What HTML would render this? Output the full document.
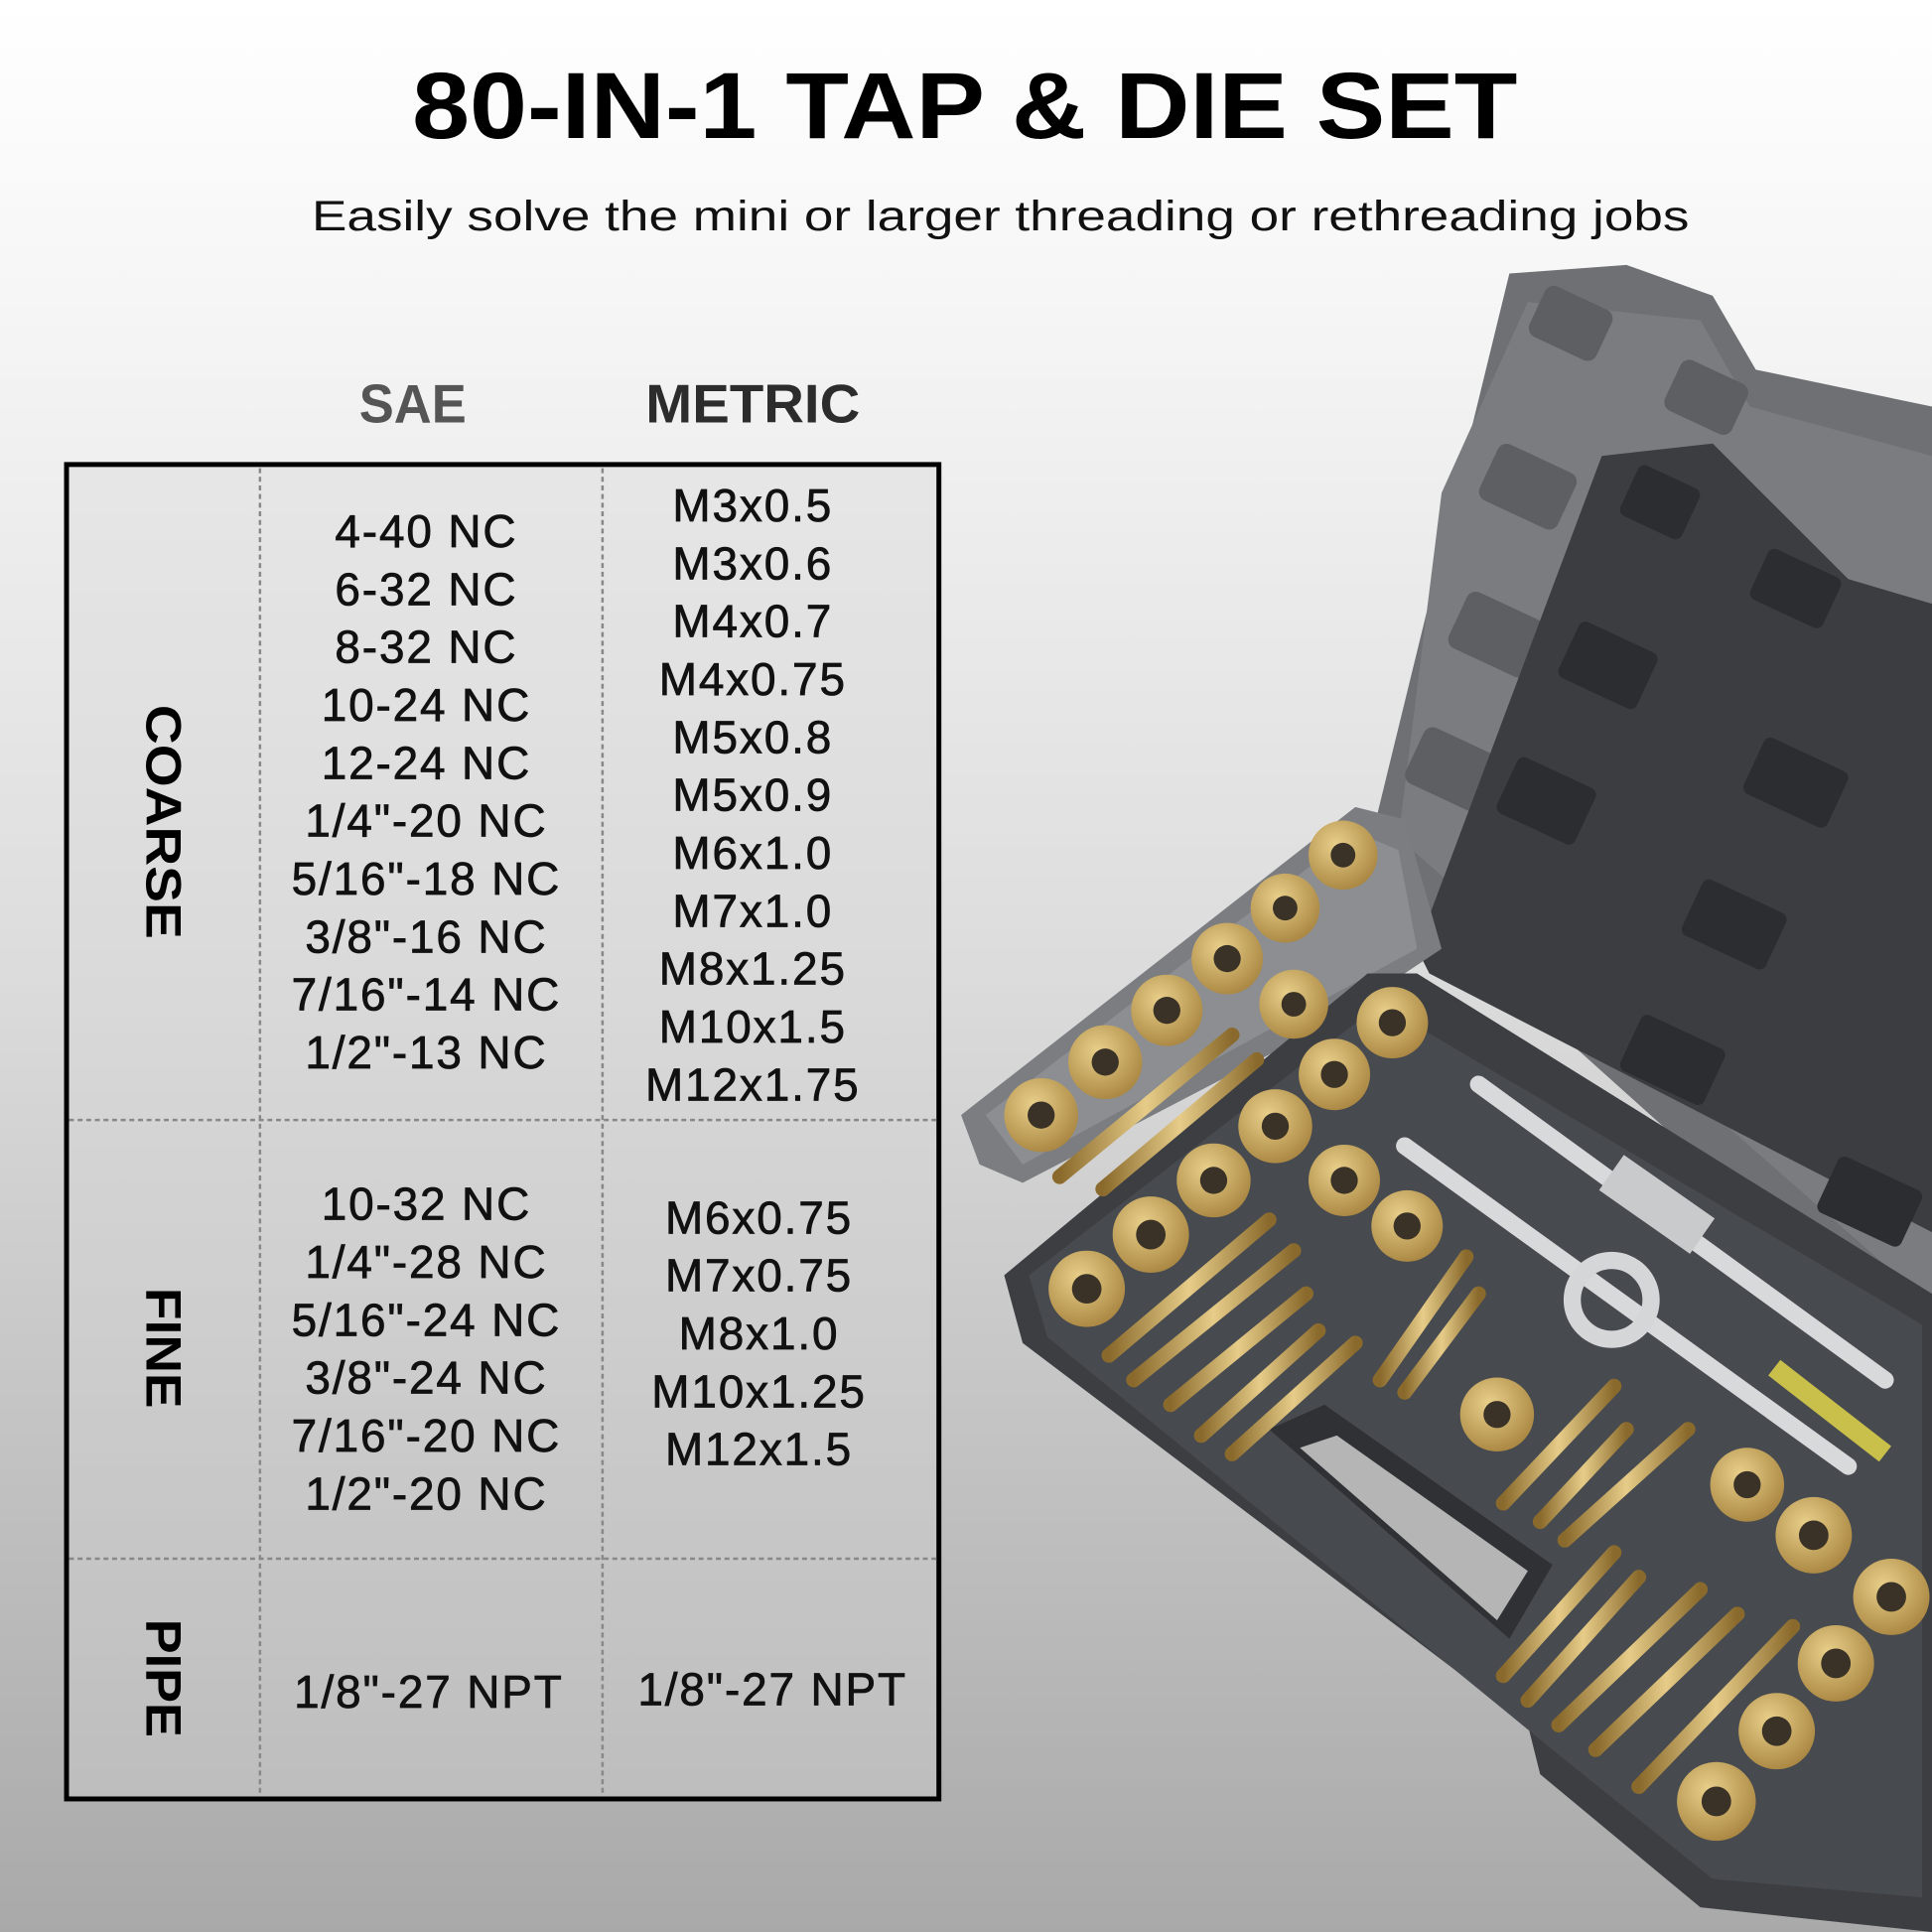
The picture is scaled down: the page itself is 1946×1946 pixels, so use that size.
<!DOCTYPE html>
<html><head><meta charset="utf-8"><style>
html,body{margin:0;padding:0;width:1946px;height:1946px;overflow:hidden}
svg{display:block}
</style></head><body>
<svg width="1946" height="1946" viewBox="0 0 1568 1568" xmlns="http://www.w3.org/2000/svg">
<defs>
<linearGradient id="bg" x1="0" y1="0" x2="0" y2="1">
<stop offset="0" stop-color="#ffffff"/><stop offset="0.15" stop-color="#f6f6f6"/><stop offset="0.5" stop-color="#dcdcdc"/><stop offset="1" stop-color="#a9a9a9"/></linearGradient>
<radialGradient id="gold" cx="0.4" cy="0.35" r="0.7"><stop offset="0" stop-color="#e8cf8a"/><stop offset="1" stop-color="#a88540"/></radialGradient>
<linearGradient id="tap" x1="0" y1="0" x2="1" y2="0"><stop offset="0" stop-color="#8a6a2c"/><stop offset="0.5" stop-color="#e6cc88"/><stop offset="1" stop-color="#8a6a2c"/></linearGradient>
</defs>
<rect width="1568" height="1568" fill="url(#bg)"/>

<!-- case lid -->
<polygon points="1225,222 1320,215 1390,240 1425,300 1568,330 1568,1110 1100,690 1118,660" fill="#6e7074"/>
<polygon points="1240,245 1380,260 1420,330 1568,370 1568,1060 1135,680 1170,400" fill="#7a7c80"/>
<g fill="#5d5f63">
<rect x="1245" y="240" width="60" height="45" rx="8" transform="rotate(25 1275 262)"/>
<rect x="1355" y="300" width="60" height="45" rx="8" transform="rotate(25 1385 322)"/>
<rect x="1205" y="370" width="70" height="50" rx="8" transform="rotate(25 1240 395)"/>
<rect x="1180" y="490" width="70" height="50" rx="8" transform="rotate(25 1215 515)"/>
<rect x="1145" y="600" width="70" height="50" rx="8" transform="rotate(25 1180 625)"/>
</g>
<!-- inner dark lid -->
<polygon points="1300,370 1390,360 1500,470 1568,490 1568,1000 1160,790 1150,770" fill="#3b3d41"/>
<g fill="#2b2d31">
<rect x="1320" y="385" width="55" height="45" rx="6" transform="rotate(25 1347 407)"/>
<rect x="1425" y="455" width="65" height="45" rx="6" transform="rotate(25 1457 477)"/>
<rect x="1270" y="515" width="70" height="50" rx="6" transform="rotate(25 1305 540)"/>
<rect x="1420" y="610" width="75" height="50" rx="6" transform="rotate(25 1457 635)"/>
<rect x="1220" y="625" width="70" height="50" rx="6" transform="rotate(25 1255 650)"/>
<rect x="1370" y="725" width="75" height="50" rx="6" transform="rotate(25 1407 750)"/>
<rect x="1320" y="835" width="75" height="50" rx="6" transform="rotate(25 1357 860)"/>
<rect x="1480" y="950" width="75" height="50" rx="6" transform="rotate(25 1517 975)"/>
</g>
<!-- light tray -->
<polygon points="780,905 1100,655 1140,665 1170,770 1080,830 830,960 795,945" fill="#7b7d81"/>
<polygon points="800,905 1100,675 1135,690 1150,770 830,945" fill="#8c8e92"/>
<!-- base tray -->
<polygon points="815,1035 1110,790 1150,790 1568,1050 1568,1568 1380,1548 1250,1440 1240,1400 830,1090" fill="#3c3e42"/>
<polygon points="835,1035 1120,815 1560,1075 1560,1540 1390,1525 1260,1420 850,1085" fill="#474a4e"/>
<!-- handle cutout -->
<polygon points="1030,1160 1075,1140 1260,1270 1225,1330" fill="#2f3135"/>
<polygon points="1055,1175 1085,1165 1240,1275 1215,1315" fill="#b5b5b5"/>
<!-- taps -->
<g stroke="url(#tap)" stroke-width="12" stroke-linecap="round">
<line x1="860" y1="955" x2="1000" y2="840"/><line x1="895" y1="965" x2="1020" y2="860"/>
<line x1="900" y1="1100" x2="1030" y2="990"/><line x1="920" y1="1120" x2="1050" y2="1015"/>
<line x1="950" y1="1140" x2="1060" y2="1050"/><line x1="975" y1="1165" x2="1070" y2="1080"/>
<line x1="1000" y1="1180" x2="1100" y2="1090"/><line x1="1120" y1="1120" x2="1190" y2="1020"/>
<line x1="1140" y1="1130" x2="1200" y2="1050"/><line x1="1220" y1="1220" x2="1310" y2="1125"/>
<line x1="1250" y1="1235" x2="1320" y2="1160"/><line x1="1270" y1="1250" x2="1370" y2="1160"/>
<line x1="1220" y1="1360" x2="1310" y2="1260"/><line x1="1240" y1="1380" x2="1330" y2="1280"/>
<line x1="1265" y1="1400" x2="1380" y2="1290"/><line x1="1295" y1="1420" x2="1410" y2="1310"/>
<line x1="1330" y1="1450" x2="1455" y2="1320"/>
</g>
<!-- handles -->
<g stroke="#d8d9db" stroke-width="14" stroke-linecap="round">
<line x1="1200" y1="880" x2="1530" y2="1120"/><line x1="1140" y1="930" x2="1500" y2="1190"/>
</g>
<rect x="1300" y="960" width="90" height="35" fill="#c9cacc" transform="rotate(35 1345 977)"/>
<circle cx="1308" cy="1055" r="32" fill="none" stroke="#d5d6d8" stroke-width="14"/>
<line x1="1440" y1="1110" x2="1530" y2="1180" stroke="#c8c04a" stroke-width="16"/>
<!-- dies -->
<g fill="url(#gold)">
<circle cx="1090" cy="694" r="28"/><circle cx="1043" cy="737" r="28"/><circle cx="996" cy="778" r="29"/>
<circle cx="947" cy="820" r="29"/><circle cx="897" cy="862" r="30"/><circle cx="845" cy="905" r="30"/>
<circle cx="1050" cy="815" r="28"/><circle cx="1130" cy="830" r="29"/><circle cx="1083" cy="872" r="29"/>
<circle cx="1035" cy="914" r="30"/><circle cx="985" cy="958" r="30"/><circle cx="934" cy="1002" r="31"/>
<circle cx="882" cy="1046" r="31"/><circle cx="1091" cy="958" r="29"/><circle cx="1142" cy="995" r="29"/>
<circle cx="1215" cy="1148" r="30"/><circle cx="1418" cy="1205" r="30"/><circle cx="1472" cy="1246" r="31"/>
<circle cx="1535" cy="1296" r="31"/><circle cx="1490" cy="1350" r="31"/><circle cx="1442" cy="1405" r="31"/>
<circle cx="1393" cy="1462" r="32"/>
</g>
<g fill="#3a3226">
<circle cx="1090" cy="694" r="10"/><circle cx="1043" cy="737" r="10"/><circle cx="996" cy="778" r="11"/>
<circle cx="947" cy="820" r="11"/><circle cx="897" cy="862" r="11"/><circle cx="845" cy="905" r="11"/>
<circle cx="1050" cy="815" r="10"/><circle cx="1130" cy="830" r="11"/><circle cx="1083" cy="872" r="11"/>
<circle cx="1035" cy="914" r="11"/><circle cx="985" cy="958" r="11"/><circle cx="934" cy="1002" r="12"/>
<circle cx="882" cy="1046" r="12"/><circle cx="1091" cy="958" r="11"/><circle cx="1142" cy="995" r="11"/>
<circle cx="1215" cy="1148" r="11"/><circle cx="1418" cy="1205" r="11"/><circle cx="1472" cy="1246" r="12"/>
<circle cx="1535" cy="1296" r="12"/><circle cx="1490" cy="1350" r="12"/><circle cx="1442" cy="1405" r="12"/>
<circle cx="1393" cy="1462" r="12"/>
</g>

<!-- titles -->
<text x="783" y="112" text-anchor="middle" font-family="Liberation Sans, sans-serif" font-weight="900" font-size="76" textLength="897" lengthAdjust="spacingAndGlyphs" fill="#000">80-IN-1 TAP &amp; DIE SET</text>
<text x="253" y="187" font-family="Liberation Sans, sans-serif" font-size="34" textLength="1118" lengthAdjust="spacingAndGlyphs" fill="#111">Easily solve the mini or larger threading or rethreading jobs</text>
<text x="335" y="343" text-anchor="middle" font-family="Liberation Sans, sans-serif" font-weight="bold" font-size="44" textLength="87" lengthAdjust="spacingAndGlyphs" fill="#555">SAE</text>
<text x="611" y="343" text-anchor="middle" font-family="Liberation Sans, sans-serif" font-weight="bold" font-size="44" textLength="174" lengthAdjust="spacingAndGlyphs" fill="#2c2c2c">METRIC</text>

<!-- table -->
<rect x="54" y="377" width="708" height="1083" fill="#d6d6d6" fill-opacity="0.35" stroke="#000" stroke-width="4"/>
<g stroke="#888" stroke-width="2" stroke-dasharray="4,3">
<line x1="211" y1="380" x2="211" y2="1458"/><line x1="489" y1="380" x2="489" y2="1458"/>
<line x1="56" y1="909" x2="760" y2="909"/><line x1="56" y1="1265" x2="760" y2="1265"/>
</g>
<g font-family="Liberation Sans, sans-serif" font-weight="bold" font-size="40" fill="#000">
<text transform="translate(119,667) rotate(90)" text-anchor="middle" textLength="190" lengthAdjust="spacingAndGlyphs">COARSE</text>
<text transform="translate(119,1094) rotate(90)" text-anchor="middle" textLength="98" lengthAdjust="spacingAndGlyphs">FINE</text>
<text transform="translate(119,1362) rotate(90)" text-anchor="middle" textLength="96" lengthAdjust="spacingAndGlyphs">PIPE</text>
</g>
<g font-family="Liberation Sans, sans-serif" font-size="37" fill="#111" text-anchor="middle" stroke="#111" stroke-width="0.6" letter-spacing="1.5">
<text x="346" y="444">4-40 NC</text><text x="346" y="491">6-32 NC</text><text x="346" y="538">8-32 NC</text>
<text x="346" y="585">10-24 NC</text><text x="346" y="632">12-24 NC</text><text x="346" y="679">1/4"-20 NC</text>
<text x="346" y="726">5/16"-18 NC</text><text x="346" y="773">3/8"-16 NC</text><text x="346" y="820">7/16"-14 NC</text>
<text x="346" y="867">1/2"-13 NC</text>
<text x="611" y="423">M3x0.5</text><text x="611" y="470">M3x0.6</text><text x="611" y="517">M4x0.7</text>
<text x="611" y="564">M4x0.75</text><text x="611" y="611">M5x0.8</text><text x="611" y="658">M5x0.9</text>
<text x="611" y="705">M6x1.0</text><text x="611" y="752">M7x1.0</text><text x="611" y="799">M8x1.25</text>
<text x="611" y="846">M10x1.5</text><text x="611" y="893">M12x1.75</text>
<text x="346" y="990">10-32 NC</text><text x="346" y="1037">1/4"-28 NC</text><text x="346" y="1084">5/16"-24 NC</text>
<text x="346" y="1131">3/8"-24 NC</text><text x="346" y="1178">7/16"-20 NC</text><text x="346" y="1225">1/2"-20 NC</text>
<text x="616" y="1001">M6x0.75</text><text x="616" y="1048">M7x0.75</text><text x="616" y="1095">M8x1.0</text>
<text x="616" y="1142">M10x1.25</text><text x="616" y="1189">M12x1.5</text>
<text x="348" y="1386">1/8"-27 NPT</text><text x="627" y="1384">1/8"-27 NPT</text>
</g>
</svg>
</body></html>
